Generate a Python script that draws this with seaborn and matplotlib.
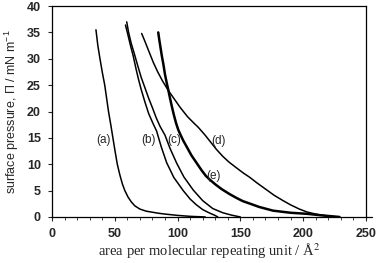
import numpy as np
import pandas as pd
import matplotlib
matplotlib.use('Agg')
import matplotlib.pyplot as plt
import seaborn as sns
from matplotlib.ticker import MultipleLocator

# isotherm data (area / A^2, pressure / mN m-1)
a_x = [35, 36.5, 38.2, 40, 42, 43.5, 45, 46.8, 48.5, 50.2, 52, 54, 56, 58, 60.5, 63, 66, 70, 75, 80, 85, 90, 100, 110, 122]
a_y = [35.5, 32.5, 30, 27.5, 25, 22.5, 20, 17.5, 15, 12.5, 10, 8, 6.3, 5, 3.8, 2.9, 2.1, 1.5, 1.1, 0.9, 0.7, 0.55, 0.3, 0.12, 0]

b_x = [58.5, 60.5, 62.5, 64.7, 67, 69, 71, 74, 77, 80.5, 83.3, 87, 91.3, 97, 104.5, 110, 115, 120, 125, 129.8, 132]
b_y = [36.4, 34.5, 32.5, 30.5, 28, 26, 24.2, 21.8, 19.6, 17.7, 16.3, 13.3, 10.3, 7.5, 5.0, 3.4, 2.3, 1.4, 0.8, 0.3, 0]

c_x = [59.5, 61, 63, 65.5, 68.5, 71, 74, 77, 80, 83, 86, 90, 94, 99.3, 105, 112.5, 120, 128, 136, 143, 150]
c_y = [37, 35, 33, 31, 28.5, 26.5, 24.5, 22.5, 20.7, 18.8, 17.2, 15.5, 13, 10.2, 7.6, 5.1, 3.1, 1.6, 0.8, 0.35, 0]

d_x = [71.4, 74, 77, 80.7, 84, 88, 92.6, 97, 102, 108, 113, 116.5, 122, 127, 131, 136, 141, 147, 152,
       157.6, 163, 170, 177, 184, 190, 197, 203, 210, 216, 225]
d_y = [34.8, 33.3, 31.5, 29.3, 27.6, 25.8, 24.0, 22.5, 20.8, 19.0, 17.8, 17.0, 15.5, 14.0, 12.8, 11.5, 10.4, 9.3, 8.4,
       7.5, 6.5, 5.3, 4.1, 3.1, 2.3, 1.5, 0.95, 0.55, 0.3, 0.05]

e_x = [84.6, 85.5, 86.5, 87.5, 88.6, 90, 91.3, 92.6, 94, 95.5, 97, 98.8, 100.6, 102.5, 104.5, 108, 111, 115, 119,
       122.5, 126, 130, 135, 141, 147, 152, 158, 165, 176, 190, 203, 215, 229]
e_y = [35, 33.5, 32, 30.5, 29.1, 27, 25.5, 24.1, 22.5, 20.9, 19.4, 17.8, 16.5, 15.5, 14.5, 13, 11.7, 10.3, 8.9,
       7.8, 7.0, 6.2, 5.3, 4.4, 3.6, 3.0, 2.5, 1.9, 1.2, 0.8, 0.6, 0.3, 0]

curve_labels = ['(a)', '(b)', '(c)', '(d)', '(e)']
label_x = [41, 77, 97, 132.6, 128.4]
label_y = [14.6, 14.6, 14.6, 14.4, 7.8]

sns.set_style('ticks')
plt.rcParams['font.family'] = ['Liberation Sans', 'DejaVu Sans']
plt.rcParams['mathtext.fontset'] = 'custom'
plt.rcParams['mathtext.rm'] = 'Liberation Sans'
plt.rcParams['mathtext.it'] = 'Liberation Sans'

fig = plt.figure(figsize=(3.78, 2.63), dpi=100)
ax = fig.add_axes([0.1376, 0.175, 0.8304, 0.802])

curves = [(a_x, a_y, 1.1), (b_x, b_y, 1.1), (c_x, c_y, 1.1), (d_x, d_y, 1.1), (e_x, e_y, 1.8)]
for xs, ys, lw in curves:
    df = pd.DataFrame({'x': xs, 'y': ys})
    sns.lineplot(data=df, x='x', y='y', sort=False, estimator=None,
                 color='black', lw=lw, ax=ax)

for lab, lx, ly in zip(curve_labels, label_x, label_y):
    ax.text(lx, ly, lab, fontsize=8.5, ha='center', va='center')

ax.set_xlim(0, 250)
ax.set_ylim(0, 40)
ax.xaxis.set_major_locator(MultipleLocator(50))
ax.xaxis.set_minor_locator(MultipleLocator(10))
ax.yaxis.set_major_locator(MultipleLocator(5))
ax.tick_params(axis='both', which='major', length=3, width=0.8, labelsize=9)
ax.tick_params(axis='x', which='major', pad=5)
ax.tick_params(axis='y', which='major', pad=5)
ax.tick_params(axis='x', which='minor', length=2, width=0.6)
for lab in ax.get_xticklabels() + ax.get_yticklabels():
    lab.set_fontweight('bold')

for sp in ax.spines.values():
    sp.set_linewidth(0.9)
    sp.set_color('black')
# x axis line runs a little past the frame, as in the original
ax.plot([1.0, 1.02], [0, 0], transform=ax.transAxes, color='black', lw=0.9, clip_on=False)

ax.set_xlabel('area per molecular repeating unit / Å$^2$',
              family='Liberation Serif', fontsize=10.5, labelpad=1, math_fontfamily='stix')
ax.set_ylabel('surface pressure, Π / mN m$^{-1}$', fontsize=9, labelpad=4)

plt.savefig('out.png', dpi=100)
